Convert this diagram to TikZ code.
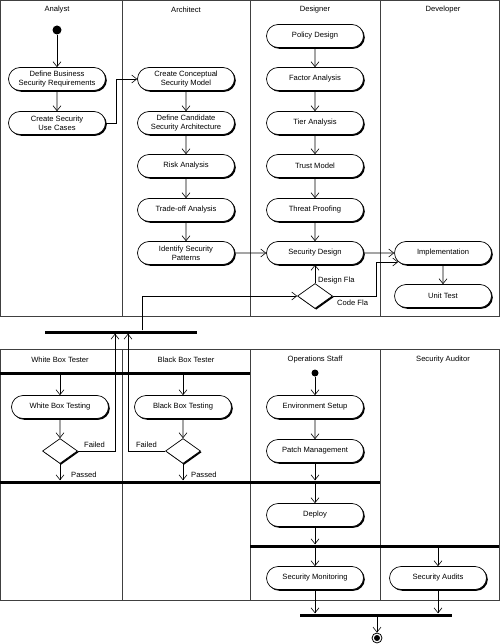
\documentclass[tikz,border=0pt]{standalone}
\usepackage{fontspec}
\setmainfont{Liberation Sans}
\usetikzlibrary{arrows.meta,shapes.misc,shapes.geometric,shadows}
\begin{document}
\begin{tikzpicture}[x=1pt,y=-1pt,
  act/.style={rounded rectangle, draw, line width=0.7pt, fill=white, minimum width=99pt, minimum height=23pt, inner sep=1pt, align=center, font=\fontsize{7.6}{8.6}\selectfont, drop shadow={shadow xshift=1.3pt, shadow yshift=-1.3pt, opacity=1, fill=black}},
  dec/.style={diamond, draw, line width=0.7pt, fill=white, minimum width=35pt, minimum height=25pt, inner sep=0pt, drop shadow={shadow xshift=1.2pt, shadow yshift=-1.2pt, opacity=1, fill=black}},
  bar/.style={fill=black, inner sep=0pt, minimum height=3pt},
  lbl/.style={font=\fontsize{7.6}{9}\selectfont, inner sep=0pt},
  hdr/.style={font=\fontsize{7.6}{9}\selectfont, inner sep=0pt},
  arr/.style={-{Straight Barb[length=5pt,width=8pt]}, line width=0.6pt},
  lane/.style={draw=black!75, line width=0.9pt},
  startnode/.style={circle, fill=black, inner sep=0pt, minimum size=9pt}]
\useasboundingbox (0,0) rectangle (500,644);
% swimlanes top
\draw[lane] (0.5,0.5) rectangle (499.5,316);
\draw[lane] (122,0.5) -- (122,316);
\draw[lane] (250,0.5) -- (250,316);
\draw[lane] (380,0.5) -- (380,316);
% swimlanes bottom
\draw[lane] (0.5,349) rectangle (499.5,600);
\draw[lane] (122,349) -- (122,600);
\draw[lane] (250,349) -- (250,600);
\draw[lane] (380,349) -- (380,600);
% headers
\node[hdr] (h1) at (57,10) {Analyst};
\node[hdr] (h2) at (186,10) {Architect};
\node[hdr] (h3) at (315,10) {Designer};
\node[hdr] (h4) at (443,10) {Developer};
\node[hdr] (h5) at (60,360) {White Box Tester};
\node[hdr] (h6) at (186,360) {Black Box Tester};
\node[hdr] (h7) at (315,360) {Operations Staff};
\node[hdr] (h8) at (443,360) {Security Auditor};
% top nodes
\node[startnode] (s1) at (57,30) {};
\node[act] (dbr) at (57,79) {Define Business\\Security Requirements};
\node[act] (csu) at (57,123) {Create Security\\Use Cases};
\node[act] (ccm) at (186,79) {Create Conceptual\\Security Model};
\node[act] (dcs) at (186,123) {Define Candidate\\Security Architecture};
\node[act] (ra) at (186,166) {Risk Analysis};
\node[act] (toa) at (186,210) {Trade-off Analysis};
\node[act] (isp) at (186,253) {Identify Security\\Patterns};
\node[act] (pd) at (315,36) {Policy Design};
\node[act] (fa) at (315,79) {Factor Analysis};
\node[act] (ta) at (315,123) {Tier Analysis};
\node[act] (tm) at (315,166) {Trust Model};
\node[act] (tp) at (315,210) {Threat Proofing};
\node[act] (sd) at (315,253) {Security Design};
\node[act] (impl) at (443,253) {Implementation};
\node[act] (ut) at (443,296) {Unit Test};
\node[dec] (dd) at (315,296) {};
\node[bar, minimum width=152pt] (barJ) at (121,332) {};
% bottom nodes
\node[bar, minimum width=250pt] (barW) at (125,373) {};
\node[act] (wbt) at (60,407) {White Box Testing};
\node[act] (bbt) at (183,407) {Black Box Testing};
\node[dec] (wd) at (60,451) {};
\node[dec] (bd) at (183,451) {};
\node[bar, minimum width=380pt] (barP) at (190,482) {};
\node[startnode, minimum size=7pt] (s2) at (315,373) {};
\node[act] (env) at (315,407) {Environment Setup};
\node[act] (pm) at (315,451) {Patch Management};
\node[act] (dep) at (315,515) {Deploy};
\node[bar, minimum width=249pt] (barQ) at (374.5,546) {};
\node[act] (smon) at (315,578) {Security Monitoring};
\node[act] (sa) at (438,578) {Security Audits};
\node[bar, minimum width=152pt] (barF) at (376,615) {};
\node[circle, draw, line width=0.8pt, minimum size=10pt, inner sep=0pt] (fin) at (377,638) {};
\fill (fin.center) circle (3pt);
% coordinates
\coordinate (c1) at (376,262);
\coordinate (j1) at (142,296);
\coordinate (fw) at (115,340);
\coordinate (fb) at (128,340);
% top connectors
\draw[arr] (s1) -- (dbr);
\draw[arr] (dbr) -- (csu);
\draw[arr] (csu.east) -- ++(10,0) |- (ccm.west);
\draw[arr] (ccm) -- (dcs);
\draw[arr] (dcs) -- (ra);
\draw[arr] (ra) -- (toa);
\draw[arr] (toa) -- (isp);
\draw[arr] (isp) -- (sd);
\draw[arr] (pd) -- (fa);
\draw[arr] (fa) -- (ta);
\draw[arr] (ta) -- (tm);
\draw[arr] (tm) -- (tp);
\draw[arr] (tp) -- (sd);
\draw[arr] (dd.north) -- (sd.south);
\draw[arr] (sd) -- (impl);
\draw[arr] (impl) -- (ut);
\draw[arr] (dd.east) -| (c1) -- ([xshift=4pt]c1 -| impl.west);
\draw[arr] (j1 |- barJ.north) -- (j1) -- (dd.west);
\node[lbl, anchor=west] (ldf) at (318,281) {Design Fla};
\node[lbl, anchor=west] (lcf) at (337,303) {Code Fla};
% bottom connectors
\draw[arr] (wbt.north |- barW.south) -- (wbt.north);
\draw[arr] (bbt.north |- barW.south) -- (bbt.north);
\draw[arr] (wbt) -- (wd);
\draw[arr] (bbt) -- (bd);
\draw[arr] (wd.south) -- (wd.south |- barP.north);
\draw[arr] (bd.south) -- (bd.south |- barP.north);
\draw[arr] (wd.east) -| (fw |- barJ.south);
\draw[arr] (bd.west) -| (fb |- barJ.south);
\node[lbl, anchor=west] (lf1) at (84,445) {Failed};
\node[lbl, anchor=east] (lf2) at (157,445) {Failed};
\node[lbl, anchor=west] (lp1) at (71,475) {Passed};
\node[lbl, anchor=west] (lp2) at (191,475) {Passed};
\draw[arr] (s2) -- (env);
\draw[arr] (env) -- (pm);
\draw[arr] (pm.south) -- (pm.south |- barP.north);
\draw[arr] (dep.north |- barP.south) -- (dep.north);
\draw[arr] (dep.south) -- (dep.south |- barQ.north);
\draw[arr] (smon.north |- barQ.south) -- (smon.north);
\draw[arr] (sa.north |- barQ.south) -- (sa.north);
\draw[arr] (smon.south) -- (smon.south |- barF.north);
\draw[arr] (sa.south) -- (sa.south |- barF.north);
\draw[arr] (fin |- barF.south) -- (fin.north);
\end{tikzpicture}
\end{document}
